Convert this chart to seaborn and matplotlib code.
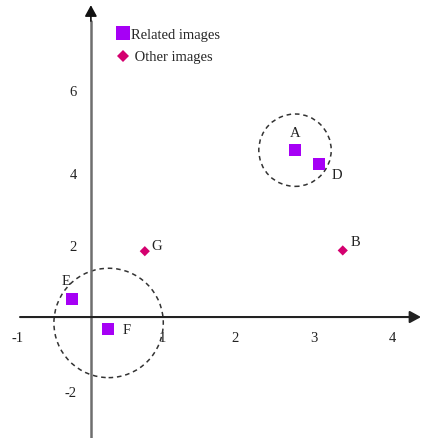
import matplotlib
matplotlib.use("Agg")
import matplotlib.pyplot as plt
import matplotlib.transforms as mtransforms
from matplotlib.patches import Ellipse
import pandas as pd
import seaborn as sns

# points
names = ["A", "D", "E", "F", "B", "G"]
xs = [2.65, 2.96, -0.25, 0.22, 3.27, 0.70]
ys = [4.51, 4.14, 0.49, -0.32, 1.80, 1.78]
kinds = ["Related images"] * 4 + ["Other images"] * 2

# dashed circles (centre, radius in x units)
circle_x = [2.65, 0.23]
circle_y = [4.51, -0.16]
circle_r = [0.47, 0.71]

xtick_vals = [-1, 1, 2, 3, 4]
ytick_vals = [-2, 2, 4, 6]

df = pd.DataFrame({"x": xs, "y": ys, "kind": kinds, "name": names})

sns.set_theme(style="white")
plt.rcParams["font.family"] = ["Liberation Serif", "DejaVu Serif"]
plt.rcParams["axes.unicode_minus"] = False

fig = plt.figure(figsize=(4.21, 4.38), dpi=100)
ax = fig.add_axes([0, 0, 1, 1])
xlim = (-1.18, 4.286)
ylim = (-3.27, 8.57)
ax.set_xlim(*xlim)
ax.set_ylim(*ylim)

sns.scatterplot(data=df, x="x", y="y", hue="kind", style="kind", size="kind",
                palette={"Related images": "#a600f5", "Other images": "#d4006f"},
                markers={"Related images": "s", "Other images": "D"},
                sizes={"Related images": 75, "Other images": 27},
                linewidth=0, ax=ax, zorder=3)

# label offsets in pixels
offs = {"A": (0, 17), "D": (18, -12), "E": (-6, 17), "F": (19, -2), "B": (13, 8), "G": (12, 5)}
for _, r in df.iterrows():
    ax.annotate(r["name"], (r["x"], r["y"]), xytext=offs[r["name"]], textcoords="offset pixels",
                ha="center", va="center", fontsize=10.5, color="#222222")

# circles look round on screen, so stretch the height by the unit ratio
w_px = fig.get_figwidth() * fig.dpi / (xlim[1] - xlim[0])
h_px = fig.get_figheight() * fig.dpi / (ylim[1] - ylim[0])
for cx, cy, r in zip(circle_x, circle_y, circle_r):
    ax.add_patch(Ellipse((cx, cy), 2 * r, 2 * r * w_px / h_px, fill=False,
                         ls=(0, (3, 2.5)), lw=1.1, ec="#333333"))

# axes with arrow heads
ax.annotate("", xy=(xlim[1], 0), xytext=(-0.92, 0),
            arrowprops=dict(arrowstyle="-|>,head_length=0.55,head_width=0.3",
                            color="#222222", lw=1.5, shrinkA=0, shrinkB=0))
ax.plot([0, 0], [ylim[0], 8.0], color="#6e6e6e", lw=1.8)
ax.annotate("", xy=(0, 8.43), xytext=(0, 8.0),
            arrowprops=dict(arrowstyle="-|>,head_length=0.55,head_width=0.3",
                            color="#111111", lw=1.2, shrinkA=0, shrinkB=0))

for s in ax.spines.values():
    s.set_visible(False)
ax.spines["left"].set_position(("data", 0))
ax.spines["bottom"].set_position(("data", 0))
ax.set_xticks(xtick_vals)
ax.set_yticks(ytick_vals)
ax.tick_params(length=0, labelsize=10.5, labelcolor="#222222")
ax.tick_params(axis="x", pad=11)
ax.tick_params(axis="y", pad=10)
# the hand-drawn labels sit a little off their ticks
x_nudge = [4, -6, -10, -8, -7]
y_nudge = [-1, -3, -5, 4]
for lab, dx in zip(ax.get_xticklabels(), x_nudge):
    lab.set_transform(lab.get_transform() + mtransforms.ScaledTranslation(dx / 100, 0, fig.dpi_scale_trans))
for lab, dy in zip(ax.get_yticklabels(), y_nudge):
    lab.set_transform(lab.get_transform() + mtransforms.ScaledTranslation(0, dy / 100, fig.dpi_scale_trans))
ax.set_xlabel("")
ax.set_ylabel("")

leg = ax.legend(loc="upper left", bbox_to_anchor=(108 / 421, 1 - 21 / 438), frameon=False,
                fontsize=10.5, handletextpad=0.1, labelspacing=0.62, borderpad=0,
                handlelength=1.0)
leg.legend_handles[0].set_markersize(9.5)
leg.legend_handles[1].set_markersize(6.5)
leg.get_texts()[1].set_text(" Other images")

fig.savefig("out.png", dpi=100)
